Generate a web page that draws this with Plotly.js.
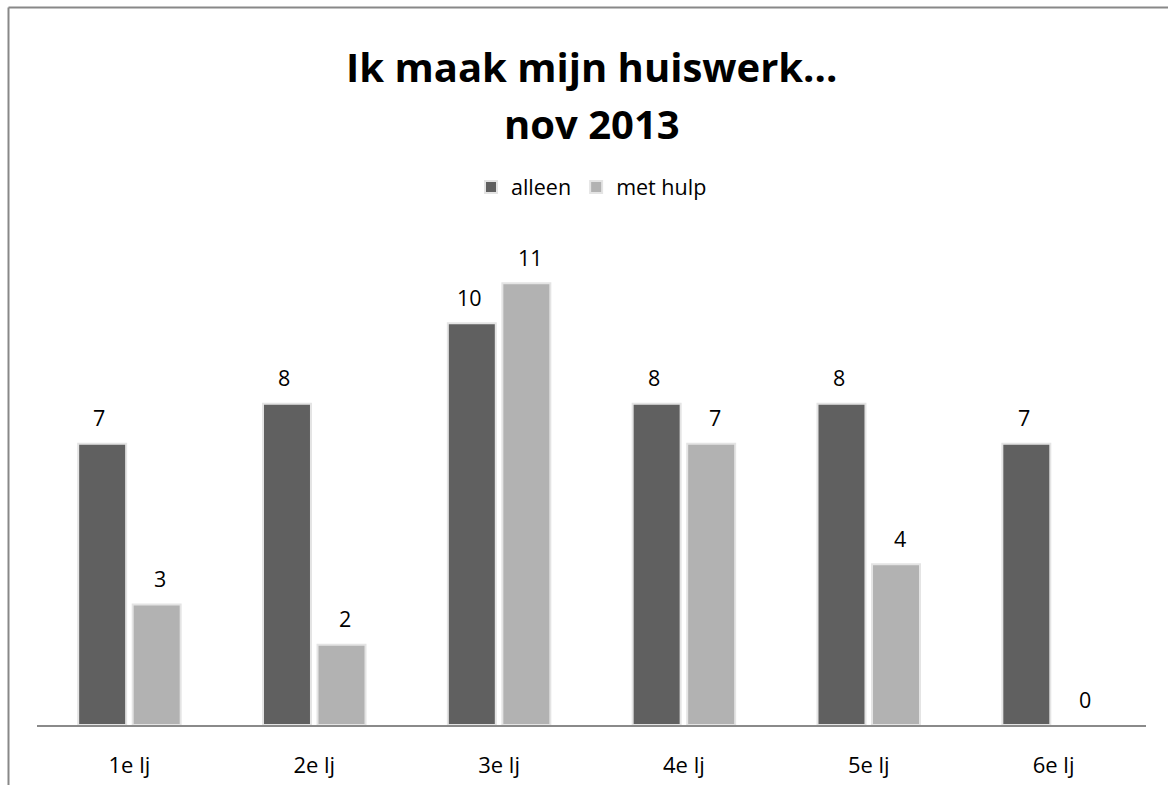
<!DOCTYPE html>
<html><head><meta charset="utf-8">
<script src="https://cdn.plot.ly/plotly-3.0.1.min.js"></script>
<style>html,body{margin:0;padding:0;background:#fff;}#chart{width:1168px;height:785px;}</style>
</head><body><div id="chart"></div>
<script>
const categories = ['1e lj','2e lj','3e lj','4e lj','5e lj','6e lj'];
const alleen = [7, 8, 10, 8, 8, 7];
const metHulp = [3, 2, 11, 7, 4, 0];
const seriesNames = ['alleen','met hulp'];
const colors = ['#606060','#b2b2b2'];
const titleLines = ['Ik maak mijn huiswerk...', 'nov 2013'];

const FONT = '"Open Sans", Lato, sans-serif';
const traces = [alleen, metHulp].map((vals, i) => ({
  type: 'bar', name: seriesNames[i], x: categories, y: vals,
  marker: {color: colors[i], line: {color: '#e4e4e4', width: vals.map(v => v === 0 ? 0 : 2)}},
  hoverinfo: 'none'
}));

const annotations = [];
[alleen, metHulp].forEach((vals, i) => {
  vals.forEach((v, j) => {
    annotations.push({x: categories[j], y: v, xref: 'x', yref: 'y', text: String(v),
      showarrow: false, xshift: i === 0 ? -30 : 31, yanchor: 'middle', yshift: 26,
      font: {family: FONT, size: 21.5, color: '#000'}});
  });
});
const PH = 482, PT = 243;
titleLines.forEach((t, k) => {
  const py = k === 0 ? 67 : 123;
  annotations.push({xref: 'paper', yref: 'paper', x: 0.5, y: (PT + PH - py) / PH, xanchor: 'center', yanchor: 'middle',
    text: '<b>' + t + '</b>', showarrow: false, font: {family: FONT, size: 40, color: '#000'}});
});

const layout = {
  width: 1168, height: 785,
  margin: {l: 36.5, r: 21.5, t: PT, b: 60},
  paper_bgcolor: '#fff', plot_bgcolor: '#fff',
  font: {family: FONT, color: '#000'},
  showlegend: true,
  legend: {orientation: 'h', x: 0.5, xanchor: 'center', y: (PT + PH - 187) / PH, yref: 'paper', yanchor: 'middle',
    font: {family: FONT, size: 21.5, color: '#000'}, itemwidth: 30, traceorder: 'normal'},
  barmode: 'group', bargap: 0.41, bargroupgap: 0.12,
  xaxis: {showline: true, linecolor: '#8a8a8a', linewidth: 2, showgrid: false, zeroline: false,
    ticks: '', ticklabelstandoff: 20, tickfont: {family: FONT, size: 22, color: '#000'}, fixedrange: true},
  yaxis: {range: [0, 12], visible: false, showgrid: false, zeroline: false, fixedrange: true},
  annotations: annotations,
  shapes: [
    {type: 'line', xref: 'paper', yref: 'paper', x0: -0.0257, x1: -0.0257, y0: 1.4886, y1: -0.13, line: {color: '#888', width: 2}},
    {type: 'line', xref: 'paper', yref: 'paper', x0: -0.0257, x1: 1.03, y0: 1.4886, y1: 1.4886, line: {color: '#888', width: 2}}
  ]
};
Plotly.newPlot('chart', traces, layout, {displayModeBar: false, staticPlot: true});
</script></body></html>
